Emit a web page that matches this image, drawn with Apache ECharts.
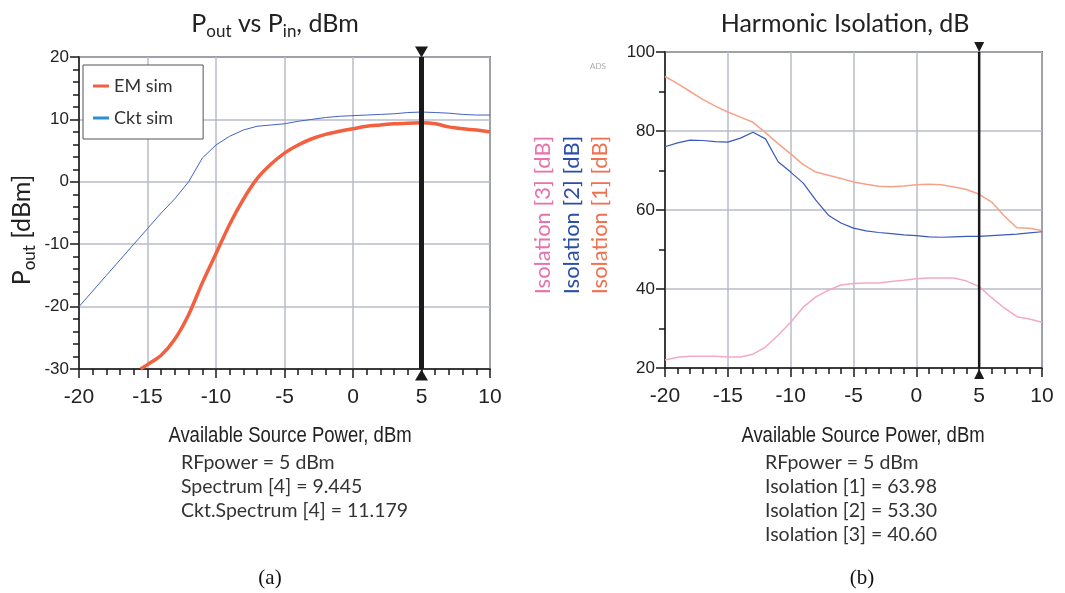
<!DOCTYPE html>
<html>
<head>
<meta charset="utf-8">
<script src="https://cdn.jsdelivr.net/npm/echarts@6/dist/echarts.min.js"></script>
<style>
  html, body { margin: 0; padding: 0; background: #fff; }
  #main { width: 1065px; height: 593px; }
</style>
</head>
<body>
<div id="main"></div>
<script>
// x values shared by the curves, available source power in dBm
const powerIn = [-20, -19, -18, -17, -16, -15, -14, -13, -12, -11, -10, -9, -8, -7, -6, -5,
  -4, -3, -2, -1, 0, 1, 2, 3, 4, 5, 6, 7, 8, 9, 10]

// (a) Pout vs Pin
const cktSim = [-20, -17.5, -15, -12.5, -10, -7.5, -5, -2.7, 0, 3.8, 5.9, 7.3, 8.3, 8.9, 9.1, 9.3,
  9.7, 10.0, 10.3, 10.5, 10.6, 10.7, 10.8, 10.9, 11.1, 11.18, 11.1, 11.0, 10.8, 10.7, 10.7]
const emX = [-15.5, -15, -14, -13, -12, -11, -10, -9, -8, -7, -6, -5, -4, -3, -2, -1, 0, 1, 2,
  3, 4, 5, 6, 7, 8, 9, 10]
const emSim = [-30, -29.3, -27.8, -25.2, -21.3, -16.2, -11.5, -6.8, -2.8, 0.5, 2.8, 4.6, 5.9, 6.9,
  7.6, 8.1, 8.5, 8.9, 9.1, 9.3, 9.4, 9.445, 9.3, 8.8, 8.5, 8.3, 8.0]

// (b) harmonic isolation
const iso1 = [93.8, 92, 90, 88, 86.3, 84.8, 83.5, 82.2, 79.6, 76.8, 74.2, 71.5, 69.6, 68.8, 68, 67.1,
  66.5, 66, 65.9, 66.1, 66.4, 66.5, 66.4, 65.8, 65.2, 63.98, 62, 58.5, 55.5, 55.4, 54.8]
const iso2 = [76, 77, 77.7, 77.6, 77.3, 77.2, 78.2, 79.7, 78, 72.2, 69.6, 66.8, 62.5, 58.7, 56.7, 55.4,
  54.7, 54.3, 54, 53.7, 53.5, 53.2, 53.1, 53.2, 53.3, 53.3, 53.5, 53.7, 53.9, 54.2, 54.5]
const iso3 = [22, 22.7, 23, 23, 23, 22.8, 22.8, 23.5, 25.3, 28.3, 31.6, 35.4, 38, 39.7, 41, 41.4,
  41.5, 41.5, 41.9, 42.2, 42.6, 42.8, 42.8, 42.8, 42, 40.6, 37.8, 35.2, 33, 32.4, 31.6]

// tick labels
const xTicks = [-20, -15, -10, -5, 0, 5, 10]
const poutTicks = [-30, -20, -10, 0, 10, 20]
const isoTicks = [20, 40, 60, 80, 100]

// marker (RFpower = 5 dBm)
const markerX = 5
const readoutA = ['RFpower = 5 dBm', 'Spectrum [4] = 9.445', 'Ckt.Spectrum [4] = 11.179']
const readoutB = ['RFpower = 5 dBm', 'Isolation [1] = 63.98', 'Isolation [2] = 53.30', 'Isolation [3] = 40.60']

const pairs = (xs, ys) => xs.map((x, i) => [x, ys[i]])

const tickFont = "'Liberation Sans', Arial, sans-serif"
const textFont = "Lato, 'Open Sans', sans-serif"
const gridColor = '#b9bdc8'

function xAxisFor(idx) {
  return {
    type: 'value',
    gridIndex: idx,
    min: xTicks[0],
    max: xTicks[xTicks.length - 1],
    interval: xTicks[1] - xTicks[0],
    axisLine: { onZero: false, lineStyle: { color: '#1a1a1a', width: 1.5 } },
    axisTick: { length: 9, lineStyle: { color: '#1a1a1a', width: 1.5 } },
    minorTick: { show: true, splitNumber: 5, length: 6, lineStyle: { color: '#1a1a1a', width: 1.5 } },
    splitLine: { show: true, lineStyle: { color: gridColor, width: 1.5 } },
    axisLabel: { margin: 18, fontSize: 21, color: '#222', fontFamily: tickFont }
  }
}

function yAxisFor(idx, ticks, minorSplit) {
  return {
    type: 'value',
    gridIndex: idx,
    min: ticks[0],
    max: ticks[ticks.length - 1],
    interval: ticks[1] - ticks[0],
    axisLine: { onZero: false, lineStyle: { color: '#1a1a1a', width: 1.5 } },
    axisTick: { length: 9, lineStyle: { color: '#1a1a1a', width: 1.5 } },
    minorTick: { show: true, splitNumber: minorSplit, length: 6, lineStyle: { color: '#1a1a1a', width: 1.5 } },
    splitLine: { show: true, lineStyle: { color: gridColor, width: 1.5 } },
    axisLabel: { margin: 10, fontSize: 17, color: '#222', fontFamily: tickFont }
  }
}

function marker(idx, ticks, width, size) {
  return {
    name: 'marker' + idx,
    type: 'line',
    xAxisIndex: idx,
    yAxisIndex: idx,
    clip: false,
    silent: true,
    symbol: 'triangle',
    symbolSize: size,
    showSymbol: true,
    lineStyle: { color: '#1a1a1a', width: width },
    itemStyle: { color: '#1a1a1a' },
    z: 5,
    data: [
      { value: [markerX, ticks[0]], symbolRotate: 0, symbolOffset: [0, 6] },
      { value: [markerX, ticks[ticks.length - 1]], symbolRotate: 180, symbolOffset: [0, -5] }
    ]
  }
}

function infoLines(lines, x, y0) {
  return lines.map((t, i) => ({
    type: 'text', x: x, y: y0 + i * 24,
    style: { text: t, fontSize: 19.5, fontFamily: textFont, fill: '#333', textVerticalAlign: 'middle' }
  }))
}

function axisTitle(x) {
  return {
    type: 'text', x: x, y: 436, scaleX: 0.86,
    style: { text: 'Available Source Power, dBm', textAlign: 'center', textVerticalAlign: 'middle',
      fontSize: 21.5, fontFamily: tickFont, fill: '#222' }
  }
}

function isoLabel(x, text, color) {
  return {
    type: 'text', x: x, y: 215, rotation: Math.PI / 2,
    style: { text: text, textAlign: 'center', textVerticalAlign: 'middle',
      fontSize: 22, fontFamily: textFont, fill: color }
  }
}

const chart = echarts.init(document.getElementById('main'))

const option = {
  animation: false,
  backgroundColor: '#fff',
  grid: [
    { left: 79, top: 57, width: 411, height: 312, show: true, borderColor: '#1a1a1a', borderWidth: 1.5 },
    { left: 665, top: 52, width: 377, height: 316, show: true, borderColor: '#1a1a1a', borderWidth: 1.5 }
  ],
  xAxis: [xAxisFor(0), xAxisFor(1)],
  yAxis: [yAxisFor(0, poutTicks, 5), yAxisFor(1, isoTicks, 2)],
  legend: {
    left: 83, top: 65,
    orient: 'vertical',
    backgroundColor: '#fff',
    borderColor: '#555',
    borderWidth: 1,
    padding: [12, 30, 12, 10],
    itemGap: 14,
    itemWidth: 16,
    itemHeight: 3,
    icon: 'rect',
    textStyle: { fontSize: 18, fontFamily: textFont, color: '#333' },
    data: [
      { name: 'EM sim', itemStyle: { color: '#f2603f' } },
      { name: 'Ckt sim', itemStyle: { color: '#2a8fd6' } }
    ]
  },
  series: [
    {
      name: 'Ckt sim', type: 'line', xAxisIndex: 0, yAxisIndex: 0, showSymbol: false,
      lineStyle: { color: '#4163c4', width: 1 }, itemStyle: { color: '#4163c4' },
      data: pairs(powerIn, cktSim)
    },
    {
      name: 'EM sim', type: 'line', xAxisIndex: 0, yAxisIndex: 0, showSymbol: false, smooth: 0.3,
      lineStyle: { color: '#f2603f', width: 3.5 }, itemStyle: { color: '#f2603f' },
      data: pairs(emX, emSim)
    },
    marker(0, poutTicks, 5, [13, 11]),
    {
      name: 'Isolation [1]', type: 'line', xAxisIndex: 1, yAxisIndex: 1, showSymbol: false,
      lineStyle: { color: '#f6a287', width: 1.5 }, data: pairs(powerIn, iso1)
    },
    {
      name: 'Isolation [2]', type: 'line', xAxisIndex: 1, yAxisIndex: 1, showSymbol: false,
      lineStyle: { color: '#3a58bd', width: 1.2 }, data: pairs(powerIn, iso2)
    },
    {
      name: 'Isolation [3]', type: 'line', xAxisIndex: 1, yAxisIndex: 1, showSymbol: false,
      lineStyle: { color: '#f3a8c8', width: 1.5 }, data: pairs(powerIn, iso3)
    },
    marker(1, isoTicks, 2.5, [10, 10])
  ],
  graphic: [
    {
      type: 'text', x: 275, y: 24,
      style: {
        text: '{m|P}{s|out}{m| vs P}{s|in}{m|, dBm}',
        textAlign: 'center', textVerticalAlign: 'middle',
        rich: {
          m: { fontSize: 25, fontFamily: textFont, fill: '#222' },
          s: { fontSize: 17, fontFamily: textFont, fill: '#222', padding: [16, 0, 0, 0] }
        }
      }
    },
    {
      type: 'text', x: 845, y: 24,
      style: { text: 'Harmonic Isolation, dB', textAlign: 'center', textVerticalAlign: 'middle',
        fontSize: 25, fontFamily: textFont, fill: '#222' }
    },
    {
      type: 'text', x: 22, y: 230, rotation: Math.PI / 2,
      style: {
        text: '{m|P}{s|out}{m| [dBm]}',
        textAlign: 'center', textVerticalAlign: 'middle',
        rich: {
          m: { fontSize: 25, fontFamily: textFont, fill: '#222' },
          s: { fontSize: 17, fontFamily: textFont, fill: '#222', padding: [16, 0, 0, 0] }
        }
      }
    },
    isoLabel(543, 'Isolation [3] [dB]', '#e872ae'),
    isoLabel(572, 'Isolation [2] [dB]', '#2b4fa8'),
    isoLabel(600, 'Isolation [1] [dB]', '#f0714f'),
    {
      type: 'text', x: 598, y: 66,
      style: { text: 'ADS', textAlign: 'center', textVerticalAlign: 'middle',
        fontSize: 8, fontFamily: textFont, fill: '#aaa' }
    },
    axisTitle(290),
    axisTitle(863),
    ...infoLines(readoutA, 181, 463),
    ...infoLines(readoutB, 765, 463),
    {
      type: 'text', x: 270, y: 578,
      style: { text: '(a)', textAlign: 'center', textVerticalAlign: 'middle',
        fontSize: 21, fontFamily: "'Liberation Serif', serif", fill: '#111' }
    },
    {
      type: 'text', x: 862, y: 578,
      style: { text: '(b)', textAlign: 'center', textVerticalAlign: 'middle',
        fontSize: 21, fontFamily: "'Liberation Serif', serif", fill: '#111' }
    }
  ]
}

chart.setOption(option)
window.onresize = function () {
  chart.resize()
}
</script>
</body>
</html>
